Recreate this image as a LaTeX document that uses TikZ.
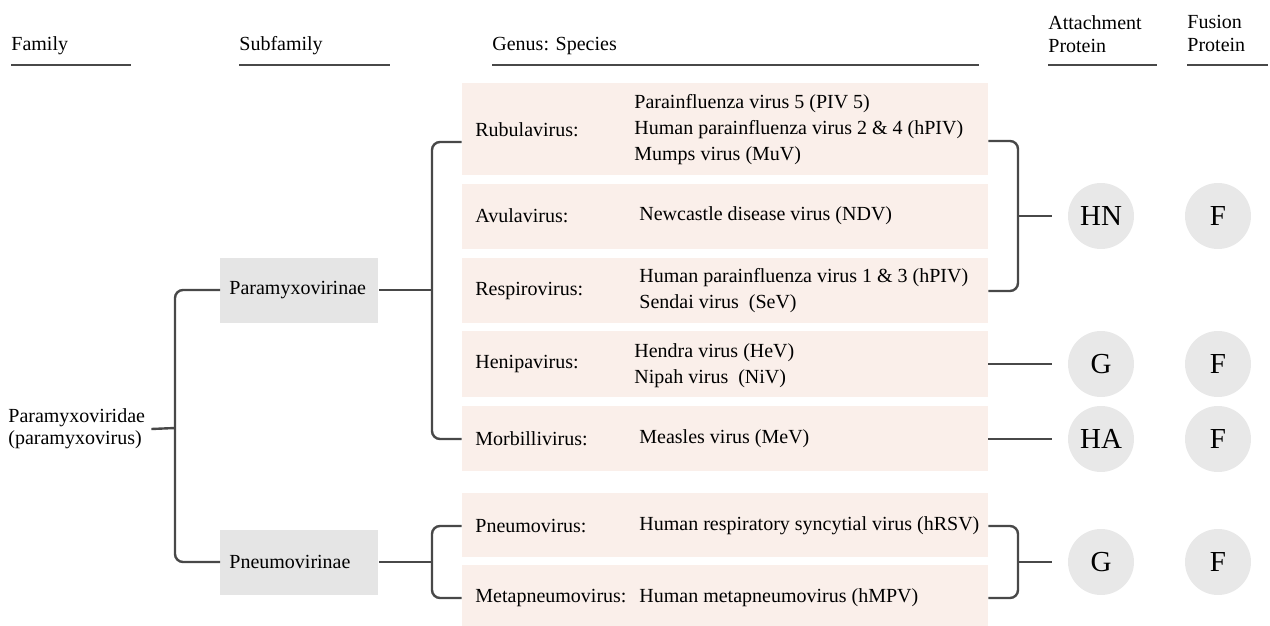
\documentclass[tikz,border=0pt]{standalone}
\usepackage{fontspec}
\setmainfont{Liberation Serif}

\definecolor{genuspink}{RGB}{250,239,234}
\definecolor{subgrey}{RGB}{229,229,229}
\definecolor{protgrey}{RGB}{232,232,232}
\definecolor{linegrey}{RGB}{72,72,72}

\tikzset{
  txt/.style={font=\fontsize{10}{13}\selectfont, inner sep=0pt, anchor=west, align=left},
  hdr/.style={font=\fontsize{10}{11.5}\selectfont, inner sep=0pt, anchor=base west},
  hdrtwo/.style={font=\fontsize{10}{11.5}\selectfont, inner sep=0pt, anchor=north west, align=left},
  conn/.style={draw=linegrey, line width=1.2pt, rounded corners=4pt},
  rule/.style={draw=linegrey, line width=1.2pt},
  subbox/.style={fill=subgrey, anchor=west, minimum height=32.5pt, text width=70pt,
    inner xsep=4.5pt, align=left, font=\fontsize{10}{13}\selectfont},
  genbox/.style={fill=genuspink, minimum width=263pt, inner sep=0pt},
  prot/.style={circle, fill=protgrey, minimum size=33pt, inner sep=0pt,
    font=\fontsize{14.5}{14.5}\selectfont}
}

\begin{document}
\begin{tikzpicture}[x=0.5pt, y=-0.5pt]
\useasboundingbox (0,0) rectangle (1270,626);

\node[hdr] (famhd) at (11,51) {Family};
\node[hdr] (subhd) at (239,51) {Subfamily};
\node[hdr] (genhd) at (492,51) {Genus: Species};
\node[hdrtwo] (atthd) at (1048,15) {Attachment\\Protein};
\node[hdrtwo] (fushd) at (1187,15) {Fusion\\Protein};

\draw[rule] (11,65) -- (131,65);
\draw[rule] (239,65) -- (390,65);
\draw[rule] (492,65) -- (979,65);
\draw[rule] (1048,65) -- (1157,65);
\draw[rule] (1187,65) -- (1268,65);

\node[txt, font=\fontsize{10}{11}\selectfont] (family) at (8,429) {Paramyxoviridae\\(paramyxovirus)};
\node[subbox] (paramyxo) at (220,290) {Paramyxovirinae};
\node[subbox] (pneumo) at (220,562) {Pneumovirinae};

\node[genbox, minimum height=46pt] (rubbox) at (725,129) {};
\node[txt] (rublbl) at (475,130) {Rubulavirus:};
\node[txt] (rubsp) at (634,130) {Parainfluenza virus 5 (PIV 5)\\Human parainfluenza virus 2 \& 4 (hPIV)\\Mumps virus (MuV)};

\node[genbox, minimum height=32.5pt] (avubox) at (725,216.5) {};
\node[txt] (avulbl) at (475,216) {Avulavirus:};
\node[txt] (avusp) at (639,216) {Newcastle disease virus (NDV)};

\node[genbox, minimum height=32.5pt] (resbox) at (725,290.5) {};
\node[txt] (reslbl) at (475,291) {Respirovirus:};
\node[txt] (ressp) at (639,291) {Human parainfluenza virus 1 \& 3 (hPIV)\\Sendai virus\ \ (SeV)};

\node[genbox, minimum height=33pt] (henbox) at (725,364) {};
\node[txt] (henlbl) at (475,364) {Henipavirus:};
\node[txt] (hensp) at (634,366) {Hendra virus (HeV)\\Nipah virus\ \ (NiV)};

\node[genbox, minimum height=32.5pt] (morbox) at (725,438.5) {};
\node[txt] (morlbl) at (475,439) {Morbillivirus:};
\node[txt] (morsp) at (639,439) {Measles virus (MeV)};

\node[genbox, minimum height=32pt] (pnvbox) at (725,525) {};
\node[txt] (pnvlbl) at (475,526) {Pneumovirus:};
\node[txt] (pnvsp) at (639,526) {Human respiratory syncytial virus (hRSV)};

\node[genbox, minimum height=32.5pt] (metbox) at (725,597.5) {};
\node[txt] (metlbl) at (475,598) {Metapneumovirus:};
\node[txt] (metsp) at (639,598) {Human metapneumovirus (hMPV)};

\node[prot] (hn) at (1101,216) {HN};
\node[prot] (g1) at (1101,364) {G};
\node[prot] (ha) at (1101,439) {HA};
\node[prot] (g2) at (1101,562) {G};
\node[prot] (f1) at (1218,216) {F};
\node[prot] (f2) at (1218,364) {F};
\node[prot] (f3) at (1218,439) {F};
\node[prot] (f4) at (1218,562) {F};

\coordinate (fj) at (175,428);
\coordinate (pj) at (432,290);
\coordinate (nj) at (432,562);
\coordinate (hnj) at (1018,216);
\coordinate (gj) at (1018,562);

\draw[conn] ([xshift=3pt]family.east) -- (fj);
\draw[conn] (paramyxo.west) -| (fj) |- (pneumo.west);
\draw[conn] (paramyxo.east) -- (pj);
\draw[conn] (pneumo.east) -- (nj);
\draw[conn] ([yshift=-6.5pt]rubbox.west) -| (pj) |- (morbox.west |- morlbl);
\draw[conn] (pnvbox.west |- pnvlbl) -| (nj) |- (metbox.west |- metlbl);

\draw[conn] ([yshift=-6pt]rubbox.east) -| (hnj) |- (resbox.east |- reslbl);
\draw[conn, shorten >=8pt] (hnj) -- (hn);
\draw[conn, shorten >=8pt] (henbox.east |- henlbl) -- (g1);
\draw[conn, shorten >=8pt] (morbox.east |- morlbl) -- (ha);
\draw[conn] (pnvbox.east |- pnvlbl) -| (gj) |- (metbox.east |- metlbl);
\draw[conn, shorten >=8pt] (gj) -- (g2);
\end{tikzpicture}
\end{document}
